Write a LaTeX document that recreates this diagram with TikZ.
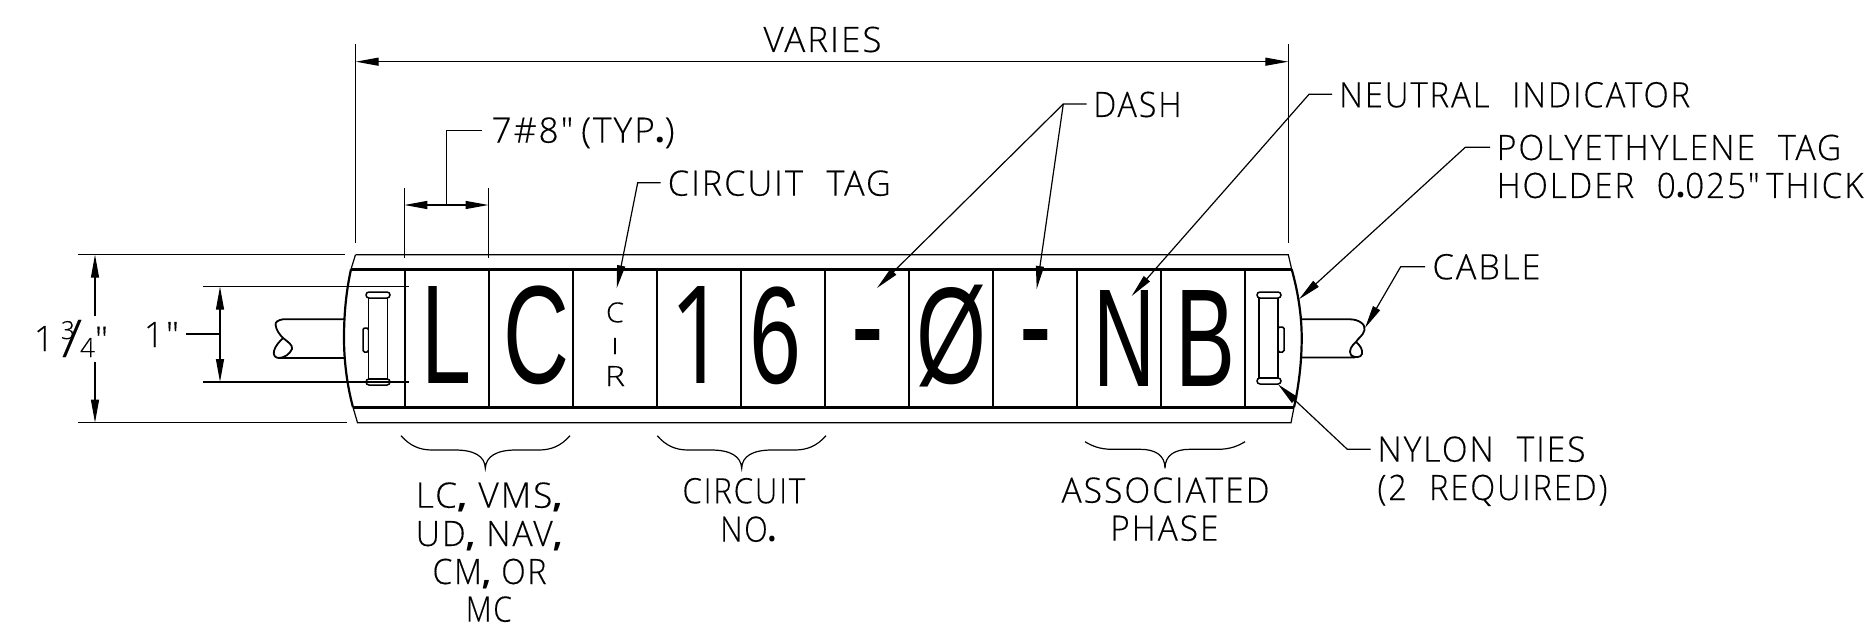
\documentclass[tikz,border=0pt]{standalone}
\usepackage{fontspec}
\usepackage{graphicx}
\usetikzlibrary{arrows.meta}
\newfontfamily\lblfont[LetterSpace=6,FakeBold=0.25]{Open Sans Light}
\newfontfamily\numfont[FakeBold=0.25]{Open Sans Light}
\newfontfamily\oneglyph{Open Sans}
\newfontfamily\pfont{Open Sans}
\newfontfamily\bigfont{Liberation Sans}
\newcommand{\heavyp}[1]{{\pfont\bfseries #1}}
\newcommand{\lab}[5]{\node[txt] (#1) at (#2-2.5,#3) {\resizebox{\dimexpr #4pt+5pt\relax}{\height}{\lblfont\fontsize{35}{35}\selectfont #5}};}
\newcommand{\sml}[7]{\node[txt] (#1) at (#2,#3) {\resizebox{#4pt}{#5pt}{\numfont\fontsize{#6}{#6}\selectfont #7}};}
\newcommand{\glyph}[6]{\node[inner sep=0pt,outer sep=0pt,anchor=south west] (#1) at (#2,#3) {\resizebox*{#4pt}{#5pt}{\bigfont\fontsize{100}{100}\selectfont #6}};}
\tikzset{
 txt/.style={inner sep=0pt,outer sep=0pt,anchor=base west},
 thin line/.style={line width=1.2pt},
 heavy/.style={line width=2.6pt},
 lead/.style={line width=1.2pt,-{Triangle[length=23pt,width=8pt]}},
 dim/.style={line width=1.2pt,{Triangle[length=23pt,width=8pt]}-{Triangle[length=23pt,width=8pt]}},
 mid/.style={line width=1.8pt,line join=round},
 tie/.style={line width=1.5pt,fill=white},
}
\begin{document}
\begin{tikzpicture}[x=1pt,y=-1pt]
\useasboundingbox (0,0) rectangle (1866,631);
% holder
\draw[thin line] (355.5,254.7) -- (1288.3,254.7) -- (1291.7,269.3);
\draw[thin line] (355.5,254.7) -- (351,269.3);
\draw[thin line] (353,407.3) -- (357.5,422.7) -- (1291,422.7) -- (1294,407.3);
\draw[heavy,line width=2.2pt] (351,269.3) .. controls (346,292) and (344,315) .. (344,338) .. controls (344,361) and (347,385) .. (353,407.3);
\draw[heavy,line width=2.2pt] (1291.7,269.3) .. controls (1298,292) and (1301.7,315) .. (1301.7,338) .. controls (1301.7,361) and (1299,385) .. (1294,407.3);
\draw[heavy] (351,269.3) -- (1291.7,269.3);
\draw[heavy] (353,407.3) -- (1294,407.3);
\foreach \x in {405,489,573,657,741,825,909,993,1077,1161,1245}
  \draw[heavy] (\x,269.3) -- (\x,407.3);
% cables
\draw[mid] (344,319.3) -- (283,319.3) .. controls (278,320) and (275,322) .. (275.6,325) .. controls (276,330) and (280,335) .. (283,338) .. controls (288,342) and (293,345) .. (292,349) .. controls (290,354) and (284,358) .. (279,358) .. controls (275,358) and (273,355) .. (274,351) .. controls (275,346) and (280,341) .. (283,338) (279,358) -- (344,358);
\draw[mid] (1300,319.3) -- (1350,319.3) .. controls (1358,319.3) and (1366,324) .. (1364.5,330) .. controls (1363,336) and (1358,338) .. (1356,342) .. controls (1360,345) and (1363,350) .. (1362,354) .. controls (1361,358) and (1354,358) .. (1351,355) .. controls (1348,351) and (1352,345) .. (1356,342) (1300,357.5) -- (1355,357.5);
% ties
\draw[tie,rounded corners=1.5pt] (363,328) rectangle (368.5,352);
\draw[tie] (368.5,298) rectangle (387.5,379);
\draw[tie,rounded corners=3pt] (366,292) rectangle (390,298);
\draw[tie,rounded corners=3pt] (366,379) rectangle (390,385);
\draw[tie,rounded corners=1.5pt] (1278,327) rectangle (1284,352);
\draw[tie] (1259,298) rectangle (1278,378);
\draw[tie,rounded corners=3pt] (1257,292) rectangle (1281,298);
\draw[tie,rounded corners=3pt] (1257,378) rectangle (1281,384);
% big letters
\glyph{gL}{421}{383.3}{50}{97}{L}
\glyph{gC}{503}{384.5}{66}{99}{C}
\node[inner sep=0pt,outer sep=0pt,anchor=south west] (g1) at (669,383.3) {\resizebox*{58pt}{97pt}{\oneglyph\fontsize{100}{100}\selectfont 1}};
\glyph{g6}{749}{384.5}{52}{98}{6}
\glyph{gh1}{851.7}{372}{32.6}{43}{-}
\glyph{gO}{916}{386.7}{70}{102}{Ø}
\glyph{gh2}{1019.7}{372}{32.6}{43}{-}
\glyph{gN}{1093}{386.7}{62}{96}{N}
\glyph{gB}{1175}{386.7}{60}{96}{B}
% circuit tag letters
\sml{cc}{606}{322.3}{18}{20}{28}{C}
\sml{ci}{611}{354}{8}{16}{22}{I}
\sml{cr}{605}{386}{20}{20}{28}{R}
% labels
\lab{varies}{766}{52}{113}{VARIES}
\lab{typ}{494}{142.7}{178}{7\#8"\hspace{8pt}(TYP\heavyp{.})}
\lab{ctag}{670.3}{195.7}{218}{CIRCUIT\hspace{24pt}TAG}
\lab{dash}{1096}{117}{83}{DASH}
\lab{neut}{1341.7}{107.3}{346}{NEUTRAL\hspace{24pt}INDICATOR}
\lab{polyA}{1499.3}{160}{339.4}{POLYETHYLENE\hspace{24pt}TAG}
\lab{polyB}{1499.3}{198}{361.7}{HOLDER\hspace{24pt}0\heavyp{.}025"\hspace{7pt}THICK}
\lab{cable}{1435}{279.3}{103}{CABLE}
\lab{nyA}{1380}{461.7}{203}{NYLON\hspace{24pt}TIES}
\lab{nyB}{1380}{500}{225}{(2\hspace{24pt}REQUIRED)}
\lab{assoc}{1064}{502.7}{203}{ASSOCIATED}
\lab{phase}{1112.7}{540.7}{103.3}{PHASE}
\lab{lcA}{418.3}{507.7}{141.7}{LC\heavyp{,} VMS\heavyp{,}}
\lab{lcB}{418.3}{546}{141.7}{UD\heavyp{,} NAV\heavyp{,}}
\lab{lcC}{435}{584}{109}{CM\heavyp{,} OR}
\lab{lcD}{468.3}{621.7}{41}{MC}
\lab{circ}{685}{503.3}{117.7}{CIRCUIT}
\lab{no}{722.7}{541.7}{51.3}{NO\heavyp{.}}
\sml{dimA}{34}{351}{20}{25}{35}{1}
\sml{dimB}{61}{339}{14}{18}{26}{3}
\sml{dimS}{62}{357}{20}{37}{26}{/}
\sml{dimC}{80}{357}{15}{19}{26}{4}
\sml{dimD}{95}{351.7}{13}{25}{35}{"}
\sml{oneA}{144}{347}{20}{25}{35}{1}
\sml{oneB}{166}{347}{13}{25}{35}{"}
% coordinates
\coordinate (vl) at (355.7,61.7); \coordinate (vr) at (1288.3,61.7);
\coordinate (typL) at (404.3,205); \coordinate (typR) at (488.5,205);
\coordinate (typJ) at (446.4,205); \coordinate (typE) at (446.4,130.7); \coordinate (typS) at (481.6,130.7);
\coordinate (ctE) at (637.7,182.7); \coordinate (ctS) at (660.7,182.7); \coordinate (ctT) at (616.7,288.3);
\coordinate (daE) at (1063.3,104); \coordinate (daS) at (1086.7,104); \coordinate (daT1) at (877,288); \coordinate (daT2) at (1036.7,289);
\coordinate (neE) at (1309,94.3); \coordinate (neS) at (1332,94.3); \coordinate (neT) at (1131.7,296);
\coordinate (poE) at (1465.3,147.3); \coordinate (poS) at (1490,147.3); \coordinate (poT) at (1299,299.3);
\coordinate (caE) at (1400.7,266.7); \coordinate (caS) at (1425,266.7); \coordinate (caT) at (1365,328);
\coordinate (nyE) at (1347.3,449.3); \coordinate (nyS) at (1370.7,449.3); \coordinate (nyT) at (1278,384.3);
% dimensions
\draw[thin line] (355.7,44) -- (355.7,243);
\draw[thin line] (1288.3,44) -- (1288.3,243);
\draw[dim] (vl) -- (vr);
\draw[thin line] (404.3,187.7) -- (404.3,258.3);
\draw[thin line] (488.5,187.7) -- (488.5,258.3);
\draw[dim] (typL) -- (typR);
\draw[thin line] (typJ) -- (typE) -- (typS);
\draw[thin line] (78,254.7) -- (345,254.7);
\draw[thin line] (78,422.7) -- (347,422.7);
\draw[thin line,-{Triangle[length=23pt,width=8pt]}] (95,316) -- (95,254.7);
\draw[thin line,-{Triangle[length=23pt,width=8pt]}] (95,362) -- (95,422.7);
\draw[thin line] (203,286.7) -- (409,286.7);
\draw[thin line] (203,382) -- (409,382);
\draw[dim] (220,286.7) -- (220,382);
\draw[thin line] (186,334) -- (220,334);
% leaders
\draw[lead] (ctS) -- (ctE) -- (ctT);
\draw[lead] (daS) -- (daE) -- (daT1);
\draw[lead] (daE) -- (daT2);
\draw[lead] (neS) -- (neE) -- (neT);
\draw[lead] (poS) -- (poE) -- (poT);
\draw[lead] (caS) -- (caE) -- (caT);
\draw[lead] (nyS) -- (nyE) -- (nyT);
% braces
\draw[thin line] (401,435.7) .. controls (410,446) and (420,450) .. (432,450) -- (455,450) .. controls (474,450) and (485,456) .. (485.3,468.3) .. controls (486,456) and (497,450) .. (516,450) -- (539,450) .. controls (551,450) and (561,446) .. (570,435.7);
\draw[thin line] (657.3,435.7) .. controls (666,446) and (676,450) .. (688,450) -- (711,450) .. controls (730,450) and (741,456) .. (741.7,468.3) .. controls (742,456) and (753,450) .. (772,450) -- (795,450) .. controls (807,450) and (817,446) .. (826,435.7);
\draw[thin line] (1085,441.7) .. controls (1092,446) and (1100,449.3) .. (1112,449.3) -- (1140,449.3) .. controls (1155,449.3) and (1165,455) .. (1165,468.3) .. controls (1165,455) and (1175,449.3) .. (1190,449.3) -- (1218,449.3) .. controls (1230,449.3) and (1238,446) .. (1245,441.7);
\end{tikzpicture}
\end{document}
